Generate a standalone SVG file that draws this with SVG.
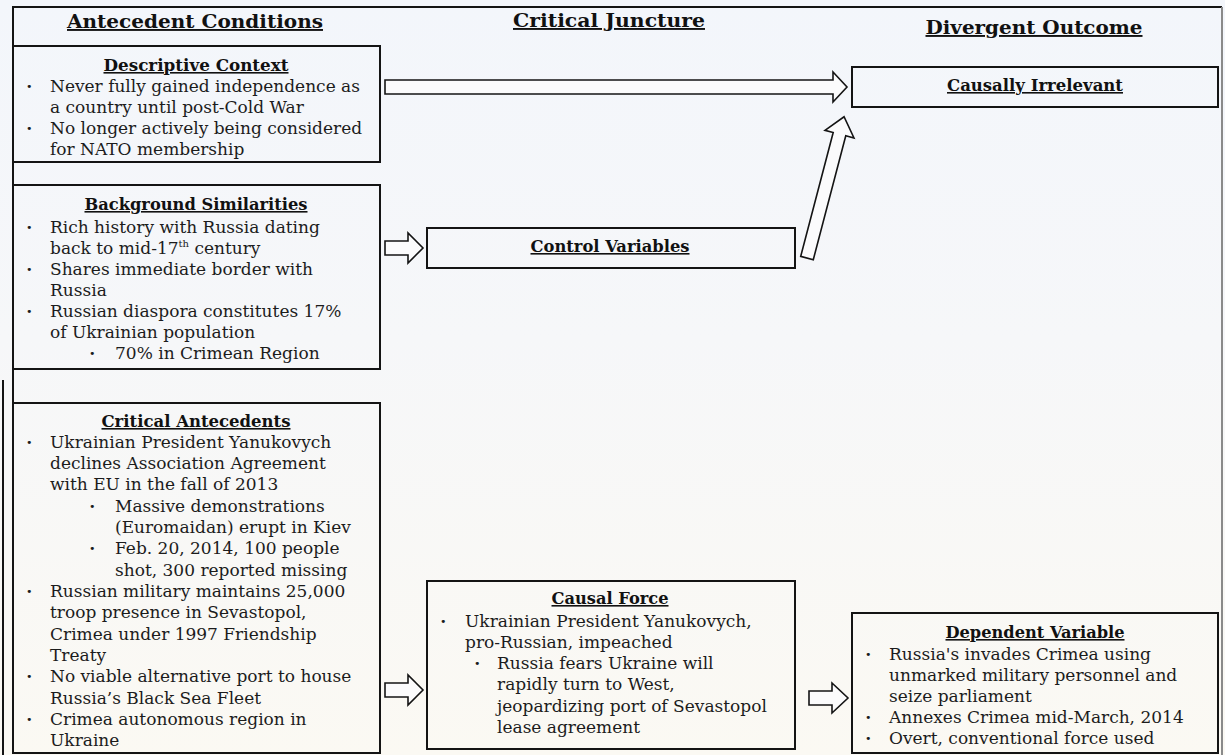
<svg xmlns="http://www.w3.org/2000/svg" width="1225" height="755" viewBox="0 0 1225 755">
<defs>
<linearGradient id="bg" x1="0" y1="0" x2="0" y2="1">
<stop offset="0" stop-color="#f3f6fb"/>
<stop offset="0.45" stop-color="#f6f7f9"/>
<stop offset="1" stop-color="#fbf9f3"/>
</linearGradient>
<style>
.box{fill:none;stroke:#141414;stroke-width:2}
.frame{fill:none;stroke:#141414;stroke-width:2}
.arrow{fill:#fbfbfc;stroke:#141414;stroke-width:1.6;stroke-linejoin:miter}
.hdr{font-family:"DejaVu Serif","Liberation Serif",serif;font-weight:bold;font-size:19px;text-anchor:middle;text-decoration:underline;fill:#111}
.ttl{font-family:"DejaVu Serif","Liberation Serif",serif;font-weight:bold;font-size:16px;text-anchor:middle;text-decoration:underline;fill:#111}
.t{font-family:"DejaVu Serif","Liberation Serif",serif;font-size:17px;fill:#1c1c1c}
.b{font-family:"DejaVu Sans","Liberation Sans",sans-serif;font-size:11px;fill:#1c1c1c}
.sup{font-size:10px}
</style>
</defs>
<rect x="0" y="0" width="1225" height="755" fill="url(#bg)"/>
<g id="frame">
<path class="frame" d="M13,403 V7 H1222"/>
<line x1="1222" y1="7" x2="1222" y2="755" stroke="#8a8a8a" stroke-width="2"/>
<line x1="3" y1="380" x2="3" y2="755" stroke="#141414" stroke-width="2"/>
</g>
<g id="headers">
<text class="hdr" x="195" y="28" textLength="256" lengthAdjust="spacingAndGlyphs">Antecedent Conditions</text>
<text class="hdr" x="609" y="27" textLength="192" lengthAdjust="spacingAndGlyphs">Critical Juncture</text>
<text class="hdr" x="1034" y="34" textLength="217" lengthAdjust="spacingAndGlyphs">Divergent Outcome</text>
</g>
<g id="descriptive-context">
<rect class="box" x="13" y="46" width="367" height="116"/>
<text class="ttl" x="196" y="71" textLength="185" lengthAdjust="spacingAndGlyphs">Descriptive Context</text>
<text class="b" x="26" y="90">•</text><text class="t" x="50" y="92">Never fully gained independence as</text>
<text class="t" x="50" y="113">a country until post-Cold War</text>
<text class="b" x="26" y="132">•</text><text class="t" x="50" y="134">No longer actively being considered</text>
<text class="t" x="50" y="155">for NATO membership</text>
</g>
<g id="background-similarities">
<rect class="box" x="13" y="185" width="367" height="184"/>
<text class="ttl" x="196" y="210" textLength="223" lengthAdjust="spacingAndGlyphs">Background Similarities</text>
<text class="b" x="26" y="231">•</text><text class="t" x="50" y="233">Rich history with Russia dating</text>
<text class="t" x="50" y="254">back to mid-17<tspan class="sup" dy="-7">th</tspan><tspan dy="7"> century</tspan></text>
<text class="b" x="26" y="273">•</text><text class="t" x="50" y="275">Shares immediate border with</text>
<text class="t" x="50" y="296">Russia</text>
<text class="b" x="26" y="315">•</text><text class="t" x="50" y="317">Russian diaspora constitutes 17%</text>
<text class="t" x="50" y="338">of Ukrainian population</text>
<text class="b" x="89" y="357">•</text><text class="t" x="115" y="359">70% in Crimean Region</text>
</g>
<g id="critical-antecedents">
<rect class="box" x="13" y="403" width="367" height="350"/>
<text class="ttl" x="196" y="427" textLength="189" lengthAdjust="spacingAndGlyphs">Critical Antecedents</text>
<text class="b" x="26" y="446">•</text><text class="t" x="50" y="448">Ukrainian President Yanukovych</text>
<text class="t" x="50" y="469">declines Association Agreement</text>
<text class="t" x="50" y="490">with EU in the fall of 2013</text>
<text class="b" x="89" y="510">•</text><text class="t" x="115" y="512">Massive demonstrations</text>
<text class="t" x="115" y="533">(Euromaidan) erupt in Kiev</text>
<text class="b" x="89" y="552">•</text><text class="t" x="115" y="554">Feb. 20, 2014, 100 people</text>
<text class="t" x="115" y="576">shot, 300 reported missing</text>
<text class="b" x="26" y="595">•</text><text class="t" x="50" y="597">Russian military maintains 25,000</text>
<text class="t" x="50" y="618">troop presence in Sevastopol,</text>
<text class="t" x="50" y="640">Crimea under 1997 Friendship</text>
<text class="t" x="50" y="661">Treaty</text>
<text class="b" x="26" y="680">•</text><text class="t" x="50" y="682">No viable alternative port to house</text>
<text class="t" x="50" y="704">Russia’s Black Sea Fleet</text>
<text class="b" x="26" y="723">•</text><text class="t" x="50" y="725">Crimea autonomous region in</text>
<text class="t" x="50" y="746">Ukraine</text>
</g>
<g id="control-variables">
<rect class="box" x="427" y="228" width="368" height="40"/>
<text class="ttl" x="610" y="252" textLength="159" lengthAdjust="spacingAndGlyphs">Control Variables</text>
</g>
<g id="causal-force">
<rect class="box" x="427" y="581" width="368" height="168"/>
<text class="ttl" x="610" y="604" textLength="117" lengthAdjust="spacingAndGlyphs">Causal Force</text>
<text class="b" x="440" y="625">•</text><text class="t" x="465" y="627">Ukrainian President Yanukovych,</text>
<text class="t" x="465" y="648">pro-Russian, impeached</text>
<text class="b" x="474" y="667">•</text><text class="t" x="497" y="669">Russia fears Ukraine will</text>
<text class="t" x="497" y="690">rapidly turn to West,</text>
<text class="t" x="497" y="712">jeopardizing port of Sevastopol</text>
<text class="t" x="497" y="733">lease agreement</text>
</g>
<g id="causally-irrelevant">
<rect class="box" x="852" y="67" width="366" height="40"/>
<text class="ttl" x="1035" y="91" textLength="176" lengthAdjust="spacingAndGlyphs">Causally Irrelevant</text>
</g>
<g id="dependent-variable">
<rect class="box" x="852" y="613" width="366" height="140"/>
<text class="ttl" x="1035" y="638" textLength="179" lengthAdjust="spacingAndGlyphs">Dependent Variable</text>
<text class="b" x="865" y="658">•</text><text class="t" x="889" y="660">Russia's invades Crimea using</text>
<text class="t" x="889" y="681">unmarked military personnel and</text>
<text class="t" x="889" y="702">seize parliament</text>
<text class="b" x="865" y="721">•</text><text class="t" x="889" y="723">Annexes Crimea mid-March, 2014</text>
<text class="b" x="865" y="742">•</text><text class="t" x="889" y="744">Overt, conventional force used</text>
</g>
<g id="connectors">
<polygon class="arrow" points="385,80 833,80 833,72 847,87 833,102 833,94 385,94"/>
<polygon class="arrow" points="385,241 408,241 408,233 423,248 408,263 408,255 385,255"/>
<polygon class="arrow" transform="translate(807,258) rotate(-75.3)" points="0,-6.5 128,-6.5 128,-15 146,0 128,15 128,6.5 0,6.5"/>
<polygon class="arrow" points="385,683 408,683 408,675 423,690 408,705 408,697 385,697"/>
<polygon class="arrow" points="809,691 832,691 832,683 848,698 832,713 832,705 809,705"/>
</g>
</svg>
